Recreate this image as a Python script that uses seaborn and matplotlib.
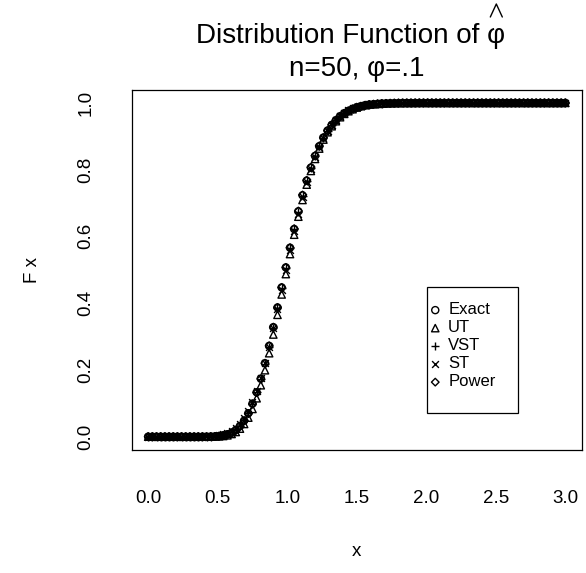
import numpy as np
import pandas as pd
import matplotlib
matplotlib.use("Agg")
import matplotlib.pyplot as plt
from matplotlib.patches import Rectangle
from matplotlib.lines import Line2D
import seaborn as sns

# Evaluation grid for x (0 to 3 in steps of 0.03)
x_grid = np.round(np.arange(101) * 0.03, 2)

exact = [
    0, 0, 0, 0, 0, 0, 0, 0, 0, 0,
    0, 0, 0, 0, 0, 0.0003, 0.0008, 0.002, 0.004, 0.007,
    0.012, 0.020, 0.032, 0.048, 0.070, 0.099, 0.133, 0.174, 0.220, 0.272,
    0.328, 0.387, 0.447, 0.507, 0.566, 0.622, 0.675, 0.723, 0.767, 0.806,
    0.841, 0.870, 0.896, 0.917, 0.934, 0.948, 0.960, 0.969, 0.976, 0.982,
    0.987, 0.990, 0.993, 0.995, 0.996, 0.997, 0.998, 0.9985, 0.999, 0.9993,
    0.9995, 0.9997, 0.9998, 0.9998, 0.9999, 1, 1, 1, 1, 1,
    1, 1, 1, 1, 1, 1, 1, 1, 1, 1,
    1, 1, 1, 1, 1, 1, 1, 1, 1, 1,
    1, 1, 1, 1, 1, 1, 1, 1, 1, 1,
    1,
]
ut = [
    0, 0, 0, 0, 0, 0, 0, 0, 0, 0,
    0, 0, 0, 0, 0, 0.0001, 0.0004, 0.001, 0.002, 0.004,
    0.008, 0.014, 0.024, 0.038, 0.057, 0.083, 0.115, 0.154, 0.199, 0.250,
    0.306, 0.365, 0.426, 0.487, 0.547, 0.605, 0.659, 0.709, 0.755, 0.796,
    0.832, 0.863, 0.890, 0.912, 0.930, 0.945, 0.957, 0.967, 0.975, 0.981,
    0.986, 0.990, 0.993, 0.995, 0.996, 0.997, 0.998, 0.9985, 0.999, 0.9993,
    0.9995, 0.9997, 0.9998, 0.9998, 0.9999, 1, 1, 1, 1, 1,
    1, 1, 1, 1, 1, 1, 1, 1, 1, 1,
    1, 1, 1, 1, 1, 1, 1, 1, 1, 1,
    1, 1, 1, 1, 1, 1, 1, 1, 1, 1,
    1,
]
vst = [
    0, 0, 0, 0, 0, 0, 0, 0, 0, 0,
    0, 0, 0, 0, 0, 0.0004, 0.001, 0.0022, 0.0043, 0.0078,
    0.013, 0.021, 0.033, 0.049, 0.071, 0.099, 0.133, 0.173, 0.219, 0.270,
    0.326, 0.385, 0.445, 0.505, 0.564, 0.621, 0.674, 0.722, 0.766, 0.805,
    0.840, 0.870, 0.895, 0.916, 0.934, 0.948, 0.960, 0.969, 0.977, 0.983,
    0.987, 0.991, 0.993, 0.995, 0.996, 0.997, 0.998, 0.9986, 0.999, 0.9993,
    0.9995, 0.9997, 0.9998, 0.9999, 0.9999, 1, 1, 1, 1, 1,
    1, 1, 1, 1, 1, 1, 1, 1, 1, 1,
    1, 1, 1, 1, 1, 1, 1, 1, 1, 1,
    1, 1, 1, 1, 1, 1, 1, 1, 1, 1,
    1,
]
st = [
    0, 0, 0, 0, 0, 0, 0, 0, 0, 0,
    0, 0, 0.0002, 0.0004, 0.0008, 0.0015, 0.0025, 0.004, 0.007, 0.011,
    0.017, 0.026, 0.039, 0.055, 0.077, 0.104, 0.137, 0.176, 0.220, 0.270,
    0.324, 0.381, 0.440, 0.499, 0.558, 0.615, 0.668, 0.717, 0.762, 0.802,
    0.838, 0.868, 0.894, 0.916, 0.934, 0.949, 0.961, 0.971, 0.979, 0.985,
    0.989, 0.992, 0.994, 0.996, 0.997, 0.998, 0.9987, 0.9991, 0.9994, 0.9996,
    0.9998, 0.9999, 1, 1, 1, 1, 1, 1, 1, 1,
    1, 1, 1, 1, 1, 1, 1, 1, 1, 1,
    1, 1, 1, 1, 1, 1, 1, 1, 1, 1,
    1, 1, 1, 1, 1, 1, 1, 1, 1, 1,
    1,
]
power = [
    0, 0, 0, 0, 0, 0, 0, 0, 0, 0,
    0, 0, 0, 0, 0, 0.0002, 0.0006, 0.0015, 0.0033, 0.0065,
    0.0115, 0.019, 0.031, 0.047, 0.069, 0.098, 0.132, 0.173, 0.220, 0.272,
    0.328, 0.387, 0.447, 0.507, 0.566, 0.623, 0.676, 0.724, 0.768, 0.807,
    0.842, 0.871, 0.896, 0.917, 0.934, 0.948, 0.960, 0.969, 0.976, 0.982,
    0.987, 0.990, 0.993, 0.995, 0.996, 0.997, 0.998, 0.9985, 0.999, 0.9993,
    0.9995, 0.9997, 0.9998, 0.9998, 0.9999, 1, 1, 1, 1, 1,
    1, 1, 1, 1, 1, 1, 1, 1, 1, 1,
    1, 1, 1, 1, 1, 1, 1, 1, 1, 1,
    1, 1, 1, 1, 1, 1, 1, 1, 1, 1,
    1,
]

series_names = ["Exact", "UT", "VST", "ST", "Power"]
series_values = [exact, ut, vst, st, power]
x_ticks = [0.0, 0.5, 1.0, 1.5, 2.0, 2.5, 3.0]
y_ticks = [0.0, 0.2, 0.4, 0.6, 0.8, 1.0]

sns.set_theme(style="white")
plt.rcParams["font.family"] = ["Liberation Sans", "DejaVu Sans"]

W, H = 586, 573
fig = plt.figure(figsize=(W / 100, H / 100), dpi=100)
fig.patch.set_facecolor("white")
ax = fig.add_axes([131.5 / W, (H - 450) / H, (582 - 131.5) / W, (450 - 89.5) / H])
ax.set_facecolor("white")

LW = 1.0
marker_style = {
    "Exact": dict(marker="o", s=26, facecolors="none", edgecolors="black", linewidths=LW),
    "UT": dict(marker="^", s=28, facecolors="none", edgecolors="black", linewidths=LW),
    "VST": dict(marker="+", s=36, color="black", linewidths=LW),
    "ST": dict(marker="x", s=24, color="black", linewidths=LW),
    "Power": dict(marker="D", s=15, facecolors="none", edgecolors="black", linewidths=LW),
}

for name, vals in zip(series_names, series_values):
    df = pd.DataFrame({"x": x_grid, "F": vals})
    sns.scatterplot(data=df, x="x", y="F", ax=ax, label=name, legend=False,
                    **marker_style[name])

ax.set_xlim(-0.12, 3.12)
ax.set_ylim(-0.04, 1.04)
ax.set_xticks(x_ticks)
ax.set_xticklabels([f"{t:.1f}" for t in x_ticks])
ax.set_yticks(y_ticks)
ax.set_yticklabels([f"{t:.1f}" for t in y_ticks], rotation=90, va="center")
for sp in ax.spines.values():
    sp.set_visible(True)
    sp.set_color("black")
    sp.set_linewidth(0.9)
ax.tick_params(axis="both", which="major", direction="out", length=11, width=0.9,
               color="black", labelsize=13.5, labelcolor="black")
ax.tick_params(axis="x", pad=17.5)
ax.tick_params(axis="y", pad=15.5)
ax.set_xlabel("x", fontsize=13.5, color="black", labelpad=26.5)
ax.set_ylabel("F x", fontsize=13.5, color="black", labelpad=26.5)

# Legend: entries without frame, box drawn separately
handles, labels = ax.get_legend_handles_labels()
leg = ax.legend(handles, labels, loc="upper left",
                bbox_to_anchor=(429 / W, 1 - 302.5 / H), bbox_transform=fig.transFigure,
                borderaxespad=0, borderpad=0, frameon=False, fontsize=12,
                handlelength=0.75, handletextpad=0.4, labelspacing=0.18,
                markerscale=1.0)
for t in leg.get_texts():
    t.set_color("black")
fig.patches.append(Rectangle((427 / W, 1 - 413 / H), (518 - 427) / W, (413 - 287) / H,
                             transform=fig.transFigure, fill=False,
                             edgecolor="black", linewidth=0.9))

# Two-line title, the estimator symbol carries a hat
cx = (131.5 + 582) / 2 / W
TFS = 20
t1 = fig.text(cx - 6 / W, 1 - 43 / H, "Distribution Function of φ", ha="center",
              va="baseline", fontsize=TFS, color="black")
fig.text(cx, 1 - 76 / H, "n=50, φ=.1", ha="center", va="baseline",
         fontsize=TFS, color="black")
fig.canvas.draw()
renderer = fig.canvas.get_renderer()
bb1 = t1.get_window_extent(renderer)
probe = fig.text(0, 0, "φ", fontsize=TFS)
wphi = probe.get_window_extent(renderer).width
probe.remove()
hx = bb1.x1 - wphi / 2
hat = Line2D([(hx - 6) / W, hx / W, (hx + 6) / W],
             [1 - 17 / H, 1 - 4 / H, 1 - 17 / H],
             transform=fig.transFigure, color="black", linewidth=1.0)
fig.lines.append(hat)

fig.savefig("out.png", dpi=100, facecolor="white")
